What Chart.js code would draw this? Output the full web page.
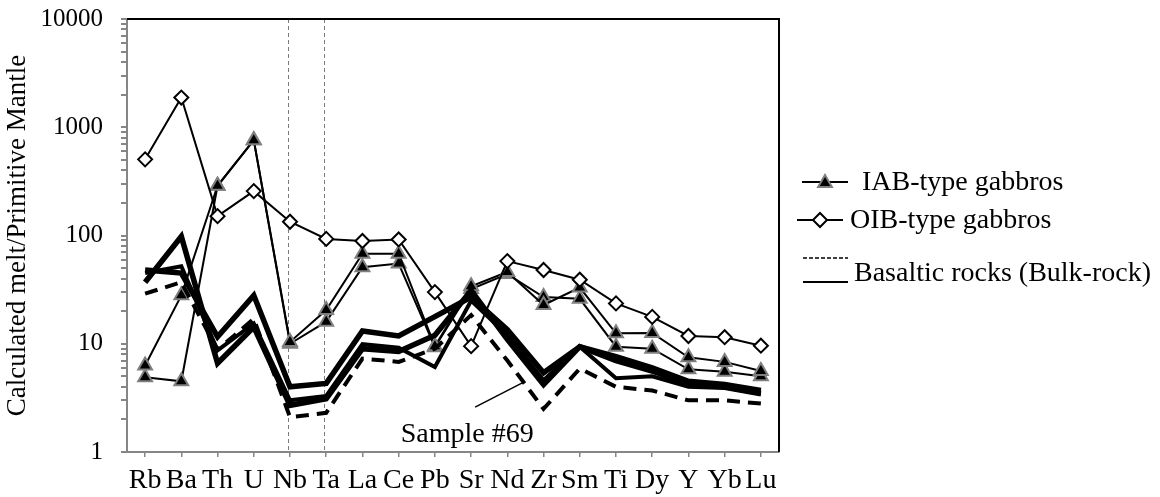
<!DOCTYPE html>
<html>
<head>
<meta charset="utf-8">
<script src="https://cdn.jsdelivr.net/npm/chart.js@4"></script>
<style>
  html, body { margin: 0; padding: 0; background: #fff; }
  #wrap { width: 1160px; height: 497px; position: relative; }
</style>
</head>
<body>
<div id="wrap"><canvas id="spider"></canvas></div>
<script>
const elements = ["Rb", "Ba", "Th", "U", "Nb", "Ta", "La", "Ce", "Pb", "Sr", "Nd", "Zr", "Sm", "Ti", "Dy", "Y", "Yb", "Lu"];

// IAB-type gabbros
const iabA = [6.3, 28, 288, 760, 10.4, 20.5, 68, 68, 9.5, 34, 46, 22.8, 33, 12.5, 12.6, 7.5, 6.8, 5.6];
const iabB = [4.9, 4.5, 288, 760, 10.0, 16, 51, 55, 9.3, 32, 44, 27, 26, 9.4, 9.0, 5.8, 5.5, 5.0];

// OIB-type gabbros
const oib = [505, 1880, 151, 257, 134, 93, 89, 92, 30, 9.5, 58, 48, 39, 23.6, 17.7, 11.8, 11.5, 9.6];

// basaltic rocks (bulk-rock)
const basalt1 = [37, 98, 6.6, 14.3, 2.7, 3.1, 9.0, 8.5, 12, 31, 11, 4.2, 9.4, 7.0, 5.6, 4.2, 4.0, 3.5];
const basalt2 = [48, 45, 11.6, 28, 4.0, 4.3, 13.1, 11.8, 17.8, 27, 13.5, 5.4, 9.4, 7.6, 6.0, 4.5, 4.2, 3.7];
const basalt3 = [45, 52, 8.7, 15.4, 3.0, 3.3, 9.9, 9.2, 6.1, 25, 12, 4.6, 9.4, 4.8, 5.0, 4.0, 3.9, 3.4];
const sample69 = [29, 37, 8.8, 17, 2.1, 2.3, 7.3, 6.8, 9.0, 18.4, 7.0, 2.5, 5.9, 4.0, 3.7, 3.0, 3.0, 2.8];

const yMajor = [1, 10, 100, 1000, 10000];
const dividers = ["Nb", "Ta"];

const FONT = "'Liberation Serif', 'Times New Roman', serif";
const GREY = "#868686";

function thick(data, width, dash) {
  return {
    data: data,
    borderColor: "#000",
    borderWidth: width,
    borderDash: dash || [],
    pointRadius: 0,
    fill: false,
    tension: 0,
    order: 2
  };
}

function triangle(ctx, x, y, r) {
  ctx.beginPath();
  for (let i = 0; i < 3; i++) {
    const a = i * 2 * Math.PI / 3;
    const px = x + Math.sin(a) * r, py = y - Math.cos(a) * r;
    i ? ctx.lineTo(px, py) : ctx.moveTo(px, py);
  }
  ctx.closePath();
  ctx.fillStyle = "#000";
  ctx.fill();
  ctx.lineWidth = 2;
  ctx.strokeStyle = "#7f7f7f";
  ctx.stroke();
}

function diamond(ctx, x, y, r) {
  ctx.beginPath();
  ctx.moveTo(x, y - r);
  ctx.lineTo(x + r, y);
  ctx.lineTo(x, y + r);
  ctx.lineTo(x - r, y);
  ctx.closePath();
  ctx.fillStyle = "#fff";
  ctx.fill();
  ctx.lineWidth = 2;
  ctx.strokeStyle = "#000";
  ctx.stroke();
}

function hline(ctx, x1, x2, y, w, dash) {
  ctx.beginPath();
  ctx.setLineDash(dash || []);
  ctx.lineWidth = w;
  ctx.strokeStyle = "#000";
  ctx.moveTo(x1, y);
  ctx.lineTo(x2, y);
  ctx.stroke();
  ctx.setLineDash([]);
}

const decorations = {
  id: "decorations",
  beforeDatasetsDraw(chart) {
    const { ctx, chartArea: a, scales: { x } } = chart;
    ctx.save();
    ctx.strokeStyle = "#7a7a7a";
    ctx.lineWidth = 1;
    ctx.setLineDash([4, 3]);
    dividers.forEach(name => {
      const px = Math.round(x.getPixelForValue(elements.indexOf(name))) - 1.5;
      ctx.beginPath();
      ctx.moveTo(px, a.top);
      ctx.lineTo(px, a.bottom);
      ctx.stroke();
    });
    ctx.restore();
  },
  afterDraw(chart) {
    const { ctx, chartArea: a, scales: { x, y } } = chart;
    ctx.save();

    // black frame on top and right
    ctx.strokeStyle = "#000";
    ctx.lineWidth = 2;
    ctx.beginPath();
    ctx.moveTo(a.left, a.top);
    ctx.lineTo(a.right, a.top);
    ctx.lineTo(a.right, a.bottom);
    ctx.stroke();

    // sample label + pointer
    ctx.font = "28px " + FONT;
    ctx.fillStyle = "#000";
    ctx.textBaseline = "alphabetic";
    ctx.textAlign = "left";
    ctx.fillText("Sample #69", x.getPixelForValue(7) + 2, a.bottom - 10);
    ctx.lineWidth = 1.5;
    ctx.beginPath();
    ctx.moveTo(x.getPixelForValue(9) + 4, y.getPixelForValue(2.6));
    ctx.lineTo(x.getPixelForValue(10) + 15, y.getPixelForValue(4.35));
    ctx.stroke();

    // legend
    const L = a.right;
    hline(ctx, L + 23, L + 69, 182, 2);
    triangle(ctx, L + 46, 183, 8);
    ctx.fillStyle = "#000";
    ctx.fillText("IAB-type gabbros", L + 83, 190);

    hline(ctx, L + 18, L + 64, 220, 2);
    diamond(ctx, L + 41, 220, 7);
    ctx.fillStyle = "#000";
    ctx.fillText("OIB-type gabbros", L + 71, 228);

    hline(ctx, L + 24, L + 69, 258, 1.5, [4, 2]);
    hline(ctx, L + 24, L + 69, 282, 2);
    ctx.fillStyle = "#000";
    ctx.fillText("Basaltic rocks (Bulk-rock)", L + 75, 281);

    ctx.restore();
  }
};

new Chart(document.getElementById("spider"), {
  type: "line",
  data: {
    labels: elements,
    datasets: [
      {
        label: "OIB-type gabbros",
        data: oib,
        borderColor: "#000",
        borderWidth: 2,
        pointStyle: "rectRot",
        pointRadius: 7,
        pointBackgroundColor: "#fff",
        pointBorderColor: "#000",
        pointBorderWidth: 2,
        tension: 0,
        order: 0
      },
      thick(basalt1, 5.5),
      thick(basalt2, 5.5),
      thick(basalt3, 4),
      thick(sample69, 4, [13, 8]),
      {
        label: "IAB-type gabbros",
        data: iabA,
        borderColor: "#000",
        borderWidth: 2,
        pointStyle: "triangle",
        pointRadius: 8,
        pointBackgroundColor: "#000",
        pointBorderColor: "#7f7f7f",
        pointBorderWidth: 2,
        tension: 0,
        order: 3
      },
      {
        label: "IAB-type gabbros",
        data: iabB,
        borderColor: "#000",
        borderWidth: 2,
        pointStyle: "triangle",
        pointRadius: 8,
        pointBackgroundColor: "#000",
        pointBorderColor: "#7f7f7f",
        pointBorderWidth: 2,
        tension: 0,
        order: 3
      }
    ]
  },
  options: {
    responsive: true,
    maintainAspectRatio: false,
    animation: false,
    layout: { padding: { left: 0, right: 381, top: 19, bottom: 0 } },
    plugins: {
      legend: { display: false },
      tooltip: { enabled: false }
    },
    scales: {
      x: {
        offset: true,
        border: { display: true, color: GREY, width: 2 },
        grid: { drawOnChartArea: false, drawTicks: true, tickLength: 5, color: GREY, lineWidth: 1.5 },
        ticks: { color: "#000", font: { family: FONT, size: 28, lineHeight: 1 }, padding: 10, maxRotation: 0, autoSkip: false },
        afterFit: s => { s.height = 45; }
      },
      y: {
        type: "logarithmic",
        min: 1,
        max: 10000,
        border: { display: true, color: GREY, width: 2 },
        grid: { drawOnChartArea: false, drawTicks: true, tickLength: 6, color: GREY, lineWidth: 2 },
        ticks: {
          autoSkip: false,
          color: "#000",
          padding: 18,
          font: { family: FONT, size: 25 },
          callback: v => yMajor.includes(v) ? String(v) : ""
        },
        afterBuildTicks: s => {
          s.ticks = s.ticks.filter(t => {
            const m = t.value / Math.pow(10, Math.floor(Math.log10(t.value) + 1e-9));
            return Math.abs(m - Math.round(m)) < 1e-6;
          });
        },
        title: {
          display: true,
          text: "Calculated melt/Primitive Mantle",
          color: "#000",
          font: { family: FONT, size: 27 },
          padding: { top: 2, bottom: 0 }
        },
        afterFit: s => {
          s.width = 127;
          s.paddingTop = 0;
          s.paddingBottom = 0;
        }
      }
    }
  },
  plugins: [decorations]
});
</script>
</body>
</html>
